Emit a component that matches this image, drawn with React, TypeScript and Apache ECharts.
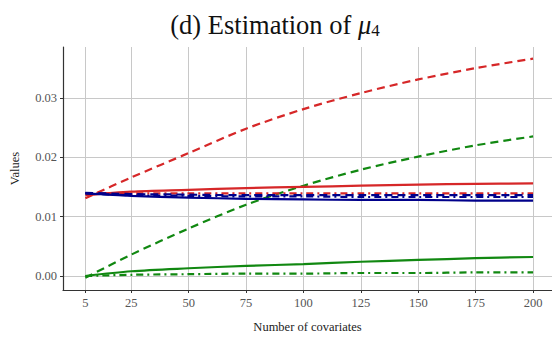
import React, { useEffect, useRef } from "react";
import * as echarts from "echarts";

const xValues = [5, 25, 50, 75, 100, 125, 150, 175, 200];
const xTicks = [5, 25, 50, 75, 100, 125, 150, 175, 200];
const yTicks = [0, 0.01, 0.02, 0.03];

const redSolid = [0.0136, 0.0142, 0.0145, 0.0148, 0.0150, 0.0152, 0.0154, 0.0155, 0.0156];
const redDashed = [0.0131, 0.0166, 0.0207, 0.0248, 0.0281, 0.0308, 0.0331, 0.0350, 0.0366];
const redDotDash = [0.0139, 0.0139, 0.0139, 0.0139, 0.0139, 0.0139, 0.0139, 0.0139, 0.0139];
const greenSolid = [0.0000, 0.0008, 0.0013, 0.0017, 0.0020, 0.0024, 0.0027, 0.0030, 0.0032];
const greenDashed = [-0.0003, 0.0036, 0.0080, 0.0120, 0.0152, 0.0179, 0.0201, 0.0220, 0.0235];
const greenDotDash = [0.0000, 0.0002, 0.0003, 0.0004, 0.0004, 0.0005, 0.0005, 0.0006, 0.0006];
const blueSolid = [0.0139, 0.0135, 0.0132, 0.0130, 0.0129, 0.0128, 0.0128, 0.0127, 0.0127];
const blueDashed = [0.0140, 0.0138, 0.0137, 0.0136, 0.0136, 0.0136, 0.0136, 0.0136, 0.0136];
const blueDotDash = [0.0139, 0.0136, 0.0135, 0.0134, 0.0134, 0.0133, 0.0133, 0.0133, 0.0133];

const RED = "#d62728";
const GREEN = "#118811";
const BLUE = "#00008b";

const DASHED = [8, 5];
const DOTDASH = [7, 4, 2, 4];

function mk(name: string, vals: number[], color: string, type: any) {
  return {
    name,
    type: "line",
    data: xValues.map((x, i) => [x, vals[i]]),
    smooth: 0.3,
    showSymbol: false,
    lineStyle: { color, width: 2.2, type },
    z: 3,
  };
}

export default function App() {
  const ref = useRef<HTMLDivElement>(null);
  useEffect(() => {
    const chart = echarts.init(ref.current!, null, { renderer: "svg" });
    const font = "'Liberation Serif', 'DejaVu Serif', serif";
    chart.setOption({
      animation: false,
      textStyle: { fontFamily: font },
      title: {
        text: "{a|(d) Estimation of }{mu|μ}{sub|4}",
        left: 270,
        textAlign: "center",
        top: 5,
        textStyle: {
          fontWeight: "normal",
          rich: {
            a: { fontFamily: font, fontSize: 26.5, fontWeight: "normal", color: "#111" },
            mu: { fontFamily: font, fontSize: 26.5, fontWeight: "normal", fontStyle: "italic", color: "#111" },
            sub: { fontFamily: font, fontSize: 17, fontWeight: "normal", color: "#111", verticalAlign: "bottom", padding: [12, 0, 0, 0] },
          },
        },
      },
      grid: { left: 61, right: 0, top: 47, bottom: 43 },
      xAxis: {
        type: "value",
        min: -4.75,
        max: 208.25,
        name: "Number of covariates",
        nameLocation: "middle",
        nameGap: 30,
        nameTextStyle: { fontFamily: font, fontSize: 12.5, color: "#222" },
        axisLine: { show: true, onZero: false, lineStyle: { color: "#333", width: 1.2 } },
        axisTick: { show: true, customValues: xTicks, length: 3, lineStyle: { color: "#333" } },
        axisLabel: { customValues: xTicks, fontFamily: font, fontSize: 12.5, color: "#555", margin: 6 },
        splitLine: { show: true, lineStyle: { color: "#c8c8c8", width: 1 } },
      },
      yAxis: {
        type: "value",
        min: -0.00236,
        max: 0.03856,
        name: "Values",
        nameLocation: "middle",
        nameGap: 42,
        nameRotate: 90,
        nameTextStyle: { fontFamily: font, fontSize: 12.5, color: "#222" },
        axisLine: { show: true, onZero: false, lineStyle: { color: "#333", width: 1.2 } },
        axisTick: { show: true, customValues: yTicks, length: 3, lineStyle: { color: "#333" } },
        axisLabel: {
          customValues: yTicks,
          fontFamily: font,
          fontSize: 12.5,
          color: "#555",
          margin: 6,
          formatter: (v: number) => v.toFixed(2),
        },
        splitLine: { show: true, lineStyle: { color: "#c8c8c8", width: 1 } },
      },
      series: [
        mk("green-dotdash", greenDotDash, GREEN, DOTDASH),
        mk("green-solid", greenSolid, GREEN, "solid"),
        mk("green-dashed", greenDashed, GREEN, DASHED),
        mk("red-dashed", redDashed, RED, DASHED),
        mk("red-solid", redSolid, RED, "solid"),
        mk("red-dotdash", redDotDash, RED, DOTDASH),
        mk("blue-solid", blueSolid, BLUE, "solid"),
        mk("blue-dashed", blueDashed, BLUE, DASHED),
        mk("blue-dotdash", blueDotDash, BLUE, DOTDASH),
      ],
    });
    return () => chart.dispose();
  }, []);
  return (
    <div
      ref={ref}
      style={{ position: "fixed", left: 0, top: 0, width: 552, height: 338, background: "#fff" }}
    />
  );
}
